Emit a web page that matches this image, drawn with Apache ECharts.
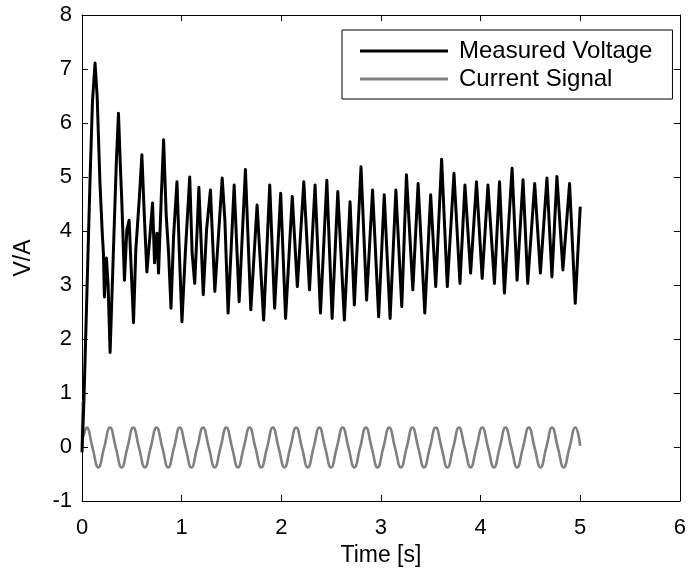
<!DOCTYPE html>
<html>
<head>
<meta charset="utf-8">
<script src="https://cdn.jsdelivr.net/npm/echarts@6/dist/echarts.min.js"></script>
<style>html,body{margin:0;padding:0;background:#fff;}#c{width:689px;height:575px;}</style>
</head>
<body>
<div id="c"></div>
<script>
// ---- data ----
const xTickLabels = [0, 1, 2, 3, 4, 5, 6];
const yTickLabels = [-1, 0, 1, 2, 3, 4, 5, 6, 7, 8];
const seriesNames = ['Measured Voltage', 'Current Signal'];

const voltT = [0, 0.02, 0.05, 0.08, 0.105, 0.131, 0.152, 0.18, 0.205, 0.215, 0.225, 0.245, 0.262, 0.282, 0.32, 0.345, 0.366, 0.385, 0.399, 0.426, 0.45, 0.473, 0.493, 0.517, 0.54, 0.575, 0.601, 0.625, 0.651, 0.684, 0.708, 0.728, 0.752, 0.768, 0.795, 0.819, 0.845, 0.869, 0.893, 0.919, 0.953, 0.977, 1.003, 1.037, 1.081, 1.105, 1.131, 1.155, 1.173, 1.217, 1.25, 1.289, 1.333, 1.407, 1.434, 1.466, 1.527, 1.577, 1.640, 1.694, 1.757, 1.823, 1.884, 1.933, 1.994, 2.043, 2.110, 2.161, 2.226, 2.283, 2.339, 2.393, 2.457, 2.51, 2.567, 2.633, 2.690, 2.733, 2.800, 2.856, 2.916, 2.977, 3.033, 3.092, 3.150, 3.209, 3.256, 3.320, 3.373, 3.440, 3.499, 3.550, 3.609, 3.666, 3.733, 3.793, 3.843, 3.9, 3.959, 4.016, 4.074, 4.139, 4.190, 4.239, 4.316, 4.366, 4.426, 4.473, 4.543, 4.600, 4.666, 4.716, 4.766, 4.826, 4.893, 4.95, 5.0];
const voltV = [-0.1, 0.9, 2.9, 4.9, 6.4, 7.11, 6.5, 4.9, 3.9, 3.59, 2.78, 3.5, 3.0, 1.75, 3.9, 5.3, 6.18, 5.2, 4.57, 3.09, 4.02, 4.2, 3.33, 2.30, 3.65, 4.6, 5.41, 4.3, 3.24, 3.96, 4.52, 3.41, 3.96, 3.22, 4.6, 5.69, 4.3, 3.59, 2.57, 3.9, 4.91, 3.6, 2.32, 3.6, 5.0, 3.6, 3.03, 4.0, 4.81, 2.82, 4.02, 4.76, 2.88, 4.98, 4.2, 2.48, 4.85, 2.69, 5.14, 2.54, 4.48, 2.35, 4.85, 2.57, 4.7, 2.38, 4.64, 2.97, 4.91, 2.91, 4.85, 2.48, 4.94, 2.38, 4.73, 2.35, 4.54, 2.63, 5.19, 2.72, 4.76, 2.41, 4.67, 2.38, 4.76, 2.6, 5.04, 2.91, 4.88, 2.48, 4.67, 2.97, 5.33, 2.97, 5.07, 3.03, 4.85, 3.22, 4.91, 3.12, 4.85, 3.03, 4.91, 2.85, 5.16, 3.09, 4.95, 3.03, 4.88, 3.22, 4.98, 3.15, 5.01, 3.28, 4.88, 2.66, 4.45];

const curT = [0, 0.006, 0.015, 0.047, 0.105, 0.164, 0.222, 0.281, 0.339, 0.398, 0.456, 0.514, 0.572, 0.631, 0.689, 0.748, 0.806, 0.865, 0.923, 0.981, 1.039, 1.098, 1.156, 1.215, 1.273, 1.332, 1.390, 1.448, 1.506, 1.565, 1.623, 1.682, 1.740, 1.799, 1.857, 1.915, 1.973, 2.032, 2.090, 2.149, 2.207, 2.266, 2.324, 2.382, 2.440, 2.499, 2.557, 2.616, 2.674, 2.733, 2.791, 2.849, 2.907, 2.966, 3.024, 3.083, 3.141, 3.200, 3.258, 3.316, 3.374, 3.433, 3.491, 3.550, 3.608, 3.667, 3.725, 3.783, 3.841, 3.900, 3.958, 4.017, 4.075, 4.134, 4.192, 4.250, 4.308, 4.367, 4.425, 4.484, 4.542, 4.601, 4.659, 4.717, 4.775, 4.834, 4.892, 4.951, 5.0];
const curV = [0, 0.85, 0.2, 0.36, -0.01, -0.38, -0.01, 0.36, -0.01, -0.38, -0.01, 0.36, -0.01, -0.38, -0.01, 0.36, -0.01, -0.38, -0.01, 0.36, -0.01, -0.38, -0.01, 0.36, -0.01, -0.38, -0.01, 0.36, -0.01, -0.38, -0.01, 0.36, -0.01, -0.38, -0.01, 0.36, -0.01, -0.38, -0.01, 0.36, -0.01, -0.38, -0.01, 0.36, -0.01, -0.38, -0.01, 0.36, -0.01, -0.38, -0.01, 0.36, -0.01, -0.38, -0.01, 0.36, -0.01, -0.38, -0.01, 0.36, -0.01, -0.38, -0.01, 0.36, -0.01, -0.38, -0.01, 0.36, -0.01, -0.38, -0.01, 0.36, -0.01, -0.38, -0.01, 0.36, -0.01, -0.38, -0.01, 0.36, -0.01, -0.38, -0.01, 0.36, -0.01, -0.38, -0.01, 0.36, 0.02];

// ---- chart ----
const FONT = 'Liberation Sans, Arial, Helvetica, sans-serif';
const chart = echarts.init(document.getElementById('c'), null, {renderer: 'canvas'});

const axisCommon = {
  axisLine: {show: true, onZero: false, lineStyle: {color: '#000', width: 1}},
  axisTick: {show: true, inside: true, length: 6, lineStyle: {color: '#000', width: 1}},
  splitLine: {show: false}
};

const option = {
  animation: false,
  backgroundColor: '#fff',
  grid: {left: 82, right: 8, top: 15, bottom: 74, containLabel: false},
  legend: {
    orient: 'vertical',
    left: 342, top: 30,
    data: seriesNames,
    icon: 'rect',
    itemWidth: 88, itemHeight: 3,
    itemGap: 2,
    padding: [8, 20, 7, 18],
    backgroundColor: '#fff',
    borderColor: '#000', borderWidth: 1, borderRadius: 0,
    textStyle: {fontFamily: FONT, fontSize: 24, color: '#000', lineHeight: 26, padding: [0, 0, 0, 6]}
  },
  xAxis: [
    Object.assign({}, axisCommon, {
      type: 'value', position: 'bottom', min: xTickLabels[0], max: xTickLabels[xTickLabels.length - 1], interval: 1,
      name: 'Time [s]', nameLocation: 'middle', nameGap: 38,
      nameTextStyle: {fontFamily: FONT, fontSize: 23, color: '#000'},
      axisLabel: {show: true, margin: 16, fontFamily: FONT, fontSize: 22, color: '#000'}
    }),
    Object.assign({}, axisCommon, {
      type: 'value', position: 'top', min: xTickLabels[0], max: xTickLabels[xTickLabels.length - 1], interval: 1,
      axisLabel: {show: false}
    })
  ],
  yAxis: [
    Object.assign({}, axisCommon, {
      type: 'value', position: 'left', min: yTickLabels[0], max: yTickLabels[yTickLabels.length - 1], interval: 1,
      name: 'V/A', nameLocation: 'middle', nameGap: 47, nameRotate: 90,
      nameTextStyle: {fontFamily: FONT, fontSize: 23, color: '#000'},
      axisLabel: {show: true, margin: 10, fontFamily: FONT, fontSize: 22, color: '#000'}
    }),
    Object.assign({}, axisCommon, {
      type: 'value', position: 'right', min: yTickLabels[0], max: yTickLabels[yTickLabels.length - 1], interval: 1,
      axisLabel: {show: false}
    })
  ],
  series: [
    {
      name: seriesNames[0], type: 'line', xAxisIndex: 0, yAxisIndex: 0,
      data: voltT.map((t, i) => [t, voltV[i]]),
      showSymbol: false, symbol: 'none',
      lineStyle: {color: '#000', width: 3, join: 'round'},
      itemStyle: {color: '#000'},
      z: 3
    },
    {
      name: seriesNames[1], type: 'line', xAxisIndex: 0, yAxisIndex: 0,
      data: curT.map((t, i) => [t, curV[i]]),
      showSymbol: false, symbol: 'none', smooth: 0.5,
      lineStyle: {color: '#808080', width: 2.6},
      itemStyle: {color: '#808080'},
      z: 2
    }
  ]
};
chart.setOption(option);
</script>
</body>
</html>
